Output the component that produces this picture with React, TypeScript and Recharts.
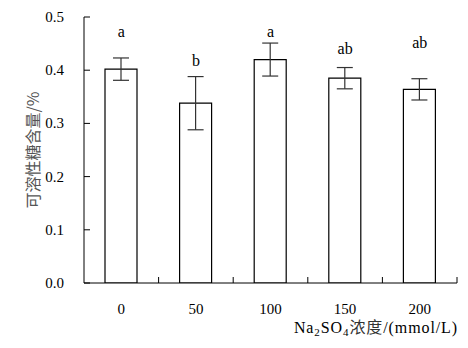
import React from 'react';
import { ComposedChart, Bar, XAxis, YAxis, ErrorBar, Scatter } from 'recharts';

const categories = ['0', '50', '100', '150', '200'];
const values = [0.402, 0.338, 0.42, 0.385, 0.364];
const errors = [0.021, 0.05, 0.031, 0.02, 0.02];
const letters = ['a', 'b', 'a', 'ab', 'ab'];
const letterPos = [0.462, 0.408, 0.462, 0.43, 0.442];
const yTicks = [0, 0.1, 0.2, 0.3, 0.4, 0.5];

const data = categories.map((c, i) => ({
  name: c,
  value: values[i],
  err: errors[i],
  letter: letters[i],
  lp: letterPos[i],
}));

const W = 468;
const H = 348;
const M = { top: 17, right: 11, bottom: 35, left: 24 };
const Y_W = 60;
const X_H = 30;
const PLOT_W = W - M.left - Y_W - M.right;
const BAND = PLOT_W / categories.length;

const SERIF = '"Liberation Serif", "Times New Roman", "DejaVu Serif", serif';
const CJK = '"Noto Sans CJK SC", "Liberation Serif", serif';

const YTick = (props: any) => {
  const { x, y, payload } = props;
  return (
    <g>
      <line x1={x} x2={x + 6} y1={y} y2={y} stroke="#000" strokeWidth={1} />
      <text x={x - 20} y={y + 5} textAnchor="end" style={{ fontFamily: SERIF, fontSize: 15 }} fill="#000">
        {Number(payload.value).toFixed(1)}
      </text>
    </g>
  );
};

const XTick = (props: any) => {
  const { x, y, payload } = props;
  const bx = x + BAND / 2;
  return (
    <g>
      <line x1={bx} x2={bx} y1={y} y2={y - 6} stroke="#000" strokeWidth={1} />
      <text x={x} y={y + 31} textAnchor="middle" style={{ fontFamily: SERIF, fontSize: 15 }} fill="#000">
        {payload.value}
      </text>
    </g>
  );
};

const YLabel = (props: any) => {
  const vb = props.viewBox;
  const cx = vb.x + 8;
  const cy = vb.y + vb.height / 2;
  return (
    <text
      x={cx}
      y={cy}
      transform={`rotate(-90 ${cx} ${cy})`}
      textAnchor="middle"
      dominantBaseline="central"
      style={{ fontFamily: CJK, fontSize: 16 }}
      fill="#555"
    >
      可溶性糖含量/%
    </text>
  );
};

const XLabel = (props: any) => {
  const vb = props.viewBox;
  return (
    <text
      x={vb.x + vb.width + 1}
      y={vb.y + 50}
      textAnchor="end"
      style={{ fontFamily: SERIF, fontSize: 16, letterSpacing: 0.9 }}
      fill="#000"
    >
      <tspan>Na</tspan>
      <tspan style={{ fontSize: 11 }} dy={3}>2</tspan>
      <tspan dy={-3}>SO</tspan>
      <tspan style={{ fontSize: 11 }} dy={3}>4</tspan>
      <tspan dy={-3} style={{ fontFamily: CJK, fontSize: 16 }} fill="#333">浓度</tspan>
      <tspan>/(mmol/L)</tspan>
    </text>
  );
};

const LetterShape = (props: any) => {
  const { cx, cy, payload } = props;
  return (
    <text x={cx} y={cy} textAnchor="middle" style={{ fontFamily: SERIF, fontSize: 16 }} fill="#000">
      {payload.letter}
    </text>
  );
};

export default function App() {
  return (
    <div style={{ position: 'absolute', left: 0, top: 0, width: W, height: H, background: '#fff' }}>
      <ComposedChart width={W} height={H} data={data} margin={M}>
        <XAxis
          dataKey="name"
          type="category"
          height={X_H}
          axisLine={{ stroke: '#000', strokeWidth: 1 }}
          tickLine={false}
          tickSize={0}
          tickMargin={0}
          tick={<XTick />}
          interval={0}
          label={<XLabel />}
        />
        <YAxis
          width={Y_W}
          domain={[0, 0.5]}
          ticks={yTicks}
          type="number"
          axisLine={{ stroke: '#000', strokeWidth: 1 }}
          tickLine={false}
          tickSize={0}
          tickMargin={0}
          tick={<YTick />}
          interval={0}
          allowDataOverflow
          label={<YLabel />}
        />
        <Bar dataKey="value" barSize={32} fill="#fff" stroke="#000" strokeWidth={1.2} isAnimationActive={false}>
          <ErrorBar dataKey="err" width={8} stroke="#333" strokeWidth={1.2} />
        </Bar>
        <Scatter dataKey="lp" shape={<LetterShape />} isAnimationActive={false} />
      </ComposedChart>
    </div>
  );
}
